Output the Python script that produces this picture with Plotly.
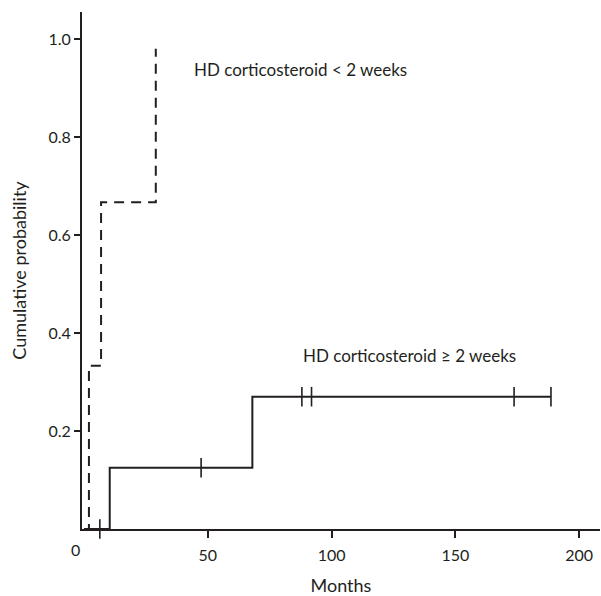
import plotly.graph_objects as go

# Group: HD corticosteroid < 2 weeks (dashed)
short_t = [0, 2.0, 2.0, 6.9, 6.9, 29.0, 29.0]
short_p = [0, 0, 0.333, 0.333, 0.667, 0.667, 0.98]

# Group: HD corticosteroid >= 2 weeks (solid)
long_t = [0, 10.4, 10.4, 68.0, 68.0, 188.6]
long_p = [0, 0, 0.125, 0.125, 0.27, 0.27]

# Censoring marks (solid group)
cens_t = [6.4, 47.3, 88.0, 91.9, 173.7, 188.6]
cens_p = [0, 0.125, 0.27, 0.27, 0.27, 0.27]

x_ticks = [50, 100, 150, 200]
y_ticks = [0.2, 0.4, 0.6, 0.8, 1.0]
y_tick_labels = ["0.2", "0.4", "0.6", "0.8", "1.0"]

INK = "#231f20"
FONT = "Lato, 'Open Sans', sans-serif"

fig = go.Figure()
fig.add_trace(go.Scatter(x=short_t, y=short_p, mode="lines",
                         line=dict(color=INK, width=2, dash="10px,7px"),
                         showlegend=False, hoverinfo="skip"))
fig.add_trace(go.Scatter(x=long_t, y=long_p, mode="lines",
                         line=dict(color=INK, width=2),
                         showlegend=False, hoverinfo="skip"))
fig.add_trace(go.Scatter(x=cens_t, y=cens_p, mode="markers",
                         marker=dict(symbol="line-ns", size=14,
                                     line=dict(color=INK, width=1.6)),
                         showlegend=False, hoverinfo="skip", cliponaxis=False))

fig.add_annotation(x=43.5, y=0.937, xref="x", yref="y", text="HD corticosteroid < 2 weeks",
                   showarrow=False, xanchor="left", yanchor="middle",
                   font=dict(family=FONT, size=17, color=INK))
fig.add_annotation(x=87.5, y=0.355, xref="x", yref="y", text="HD corticosteroid ≥ 2 weeks",
                   showarrow=False, xanchor="left", yanchor="middle",
                   font=dict(family=FONT, size=17, color=INK))
fig.add_annotation(x=(75 - 82) / 518, y=(529 - 549) / 517, xref="paper", yref="paper",
                   text="0", showarrow=False, xanchor="center", yanchor="middle",
                   font=dict(family=FONT, size=16, color=INK))

fig.update_layout(
    width=601, height=596,
    margin=dict(l=82, r=1, t=12, b=67),
    paper_bgcolor="white", plot_bgcolor="white",
    font=dict(family=FONT, size=16, color=INK),
)
fig.update_xaxes(range=[-0.8, 208.4], showgrid=False, zeroline=False,
                 showline=True, linecolor=INK, linewidth=2,
                 tickmode="array", tickvals=x_ticks, ticks="outside",
                 ticklen=7, tickwidth=2, tickcolor=INK, ticklabelstandoff=4,
                 title=dict(text="Months", font=dict(size=18), standoff=17))
fig.update_yaxes(range=[0, 1.055], showgrid=False, zeroline=False,
                 showline=True, linecolor=INK, linewidth=2,
                 tickmode="array", tickvals=y_ticks, ticktext=y_tick_labels,
                 ticks="outside", ticklen=6, tickwidth=2, tickcolor=INK,
                 title=dict(text="Cumulative probability", font=dict(size=18), standoff=17))

fig.write_html("out.html", config={"displayModeBar": False},
               post_script="document.body.style.margin='0';document.body.style.overflow='hidden';")
